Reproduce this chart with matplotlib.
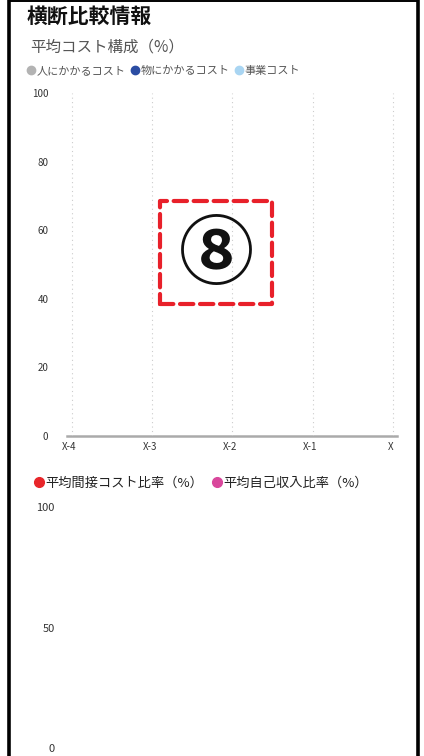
import matplotlib
matplotlib.use('Agg')
import matplotlib.pyplot as plt
from matplotlib.lines import Line2D
from matplotlib.patches import Rectangle

plt.rcParams['font.family'] = ['Noto Sans CJK JP', 'DejaVu Sans']

# Chart data (no values are shown in the reference, only categories and series)
years = ['X-4', 'X-3', 'X-2', 'X-1', 'X']
cost_series = ['人にかかるコスト', '物にかかるコスト', '事業コスト']
cost_colors = ['#b3b3b3', '#2b4da3', '#a9d5f2']
ratio_series = ['平均間接コスト比率（%）', '平均自己収入比率（%）']
ratio_colors = ['#e8262a', '#d9479c']
cost_ticks = [0, 20, 40, 60, 80, 100]
ratio_ticks = [0, 50, 100]

W, H = 424, 756
fig = plt.figure(figsize=(W / 100, H / 100), dpi=100)


def fx(px):
    return px / W


def fy(py):
    return 1 - py / H


# phone frame
fig.add_artist(Line2D([fx(8.5), fx(8.5)], [0, 1], color='black', lw=2.6))
fig.add_artist(Line2D([fx(417.5), fx(417.5)], [0, 1], color='black', lw=2.6))
fig.add_artist(Line2D([fx(8.5), fx(417.5)], [fy(0.8), fy(0.8)], color='black', lw=1.4))

fig.text(fx(27), fy(16), '横断比較情報', fontsize=15, weight='bold', color='#111111',
         ha='left', va='center')
fig.text(fx(30), fy(47), '平均コスト構成（%）', fontsize=11.2, color='#555555',
         ha='left', va='center')

# top chart: average cost composition
ax1 = fig.add_axes([fx(67), fy(436), fx(397) - fx(67), fy(93) - fy(436)])
x = list(range(len(years)))
ax1.set_xlim(-0.03, 4.08)
ax1.set_ylim(0, 100)
ax1.set_xticks(x)
ax1.set_xticklabels(years, fontsize=7, color='#333333')
ax1.set_yticks(cost_ticks)
ax1.set_yticklabels([str(t) for t in cost_ticks], fontsize=7, color='#333333')
ax1.tick_params(axis='y', length=0, pad=13.5)
ax1.tick_params(axis='x', length=0, pad=4)
for s in ax1.spines.values():
    s.set_visible(False)
ax1.axhline(0, color='#aaaaaa', lw=1.8, clip_on=False)
for xi in x:
    ax1.axvline(xi + 0.03, color='#cccccc', lw=0.8, ls=(0, (1, 3)))
ax1.patch.set_alpha(0)

h1 = [Line2D([], [], marker='o', ls='', color=c, markersize=6, label=n)
      for n, c in zip(cost_series, cost_colors)]
leg1 = fig.legend(handles=h1, loc='center left', bbox_to_anchor=(fx(27), fy(71)),
                  ncol=3, frameon=False, fontsize=8, handlelength=0.7, handletextpad=0.15,
                  columnspacing=0.5, borderaxespad=0, borderpad=0)
for t in leg1.get_texts():
    t.set_color('#555555')

# bottom chart: ratios
ax2 = fig.add_axes([fx(67), fy(748), fx(397) - fx(67), fy(507) - fy(748)])
ax2.set_xlim(-0.03, 4.08)
ax2.set_ylim(0, 100)
ax2.set_xticks([])
ax2.set_yticks(ratio_ticks)
ax2.set_yticklabels([str(t) for t in ratio_ticks], fontsize=8, color='#333333')
ax2.tick_params(axis='y', length=0, pad=9)
for s in ax2.spines.values():
    s.set_visible(False)
ax2.patch.set_alpha(0)

h2 = [Line2D([], [], marker='o', ls='', color=c, markersize=7, label=n)
      for n, c in zip(ratio_series, ratio_colors)]
leg2 = fig.legend(handles=h2, loc='center left', bbox_to_anchor=(fx(34), fy(483)),
                  ncol=2, frameon=False, fontsize=9.5, handlelength=0.7, handletextpad=0.15,
                  columnspacing=0.7, borderaxespad=0, borderpad=0)
for t in leg2.get_texts():
    t.set_color('#222222')

# annotation marker
fig.add_artist(Rectangle((fx(160), fy(304)), fx(272) - fx(160), fy(201) - fy(304),
                         fill=False, edgecolor='#e8202a', lw=3, ls=(0, (3.2, 1.6)),
                         joinstyle='round', capstyle='round'))
fig.text(fx(216), fy(256), '⑧', fontsize=54, weight='bold', color='#111111',
         ha='center', va='center')

fig.savefig('out.png', dpi=100)
